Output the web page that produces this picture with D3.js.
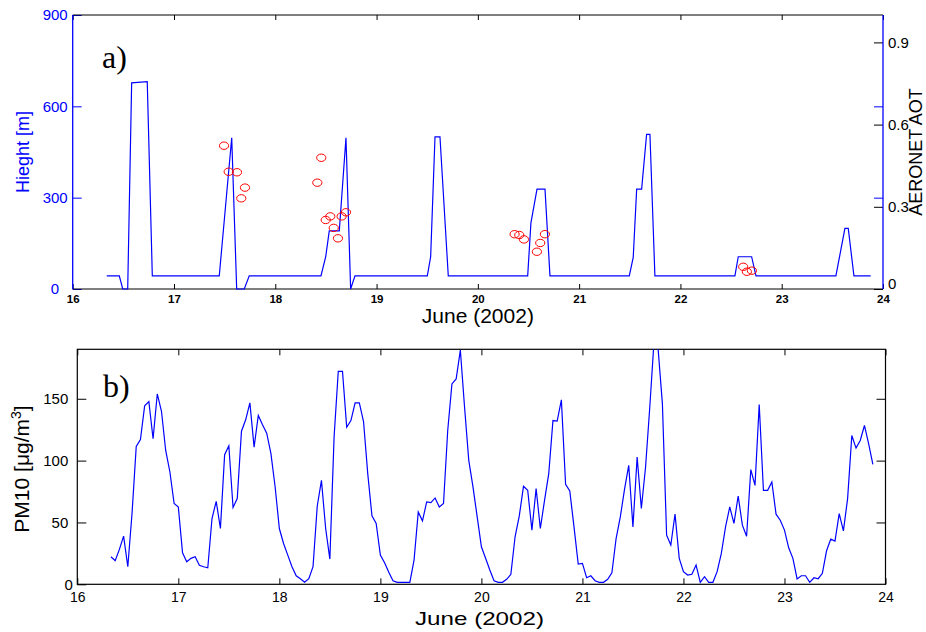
<!DOCTYPE html>
<html>
<head>
<meta charset="utf-8">
<script src="https://cdn.jsdelivr.net/npm/d3@7"></script>
<style>
  html, body { margin: 0; padding: 0; background: #fff; }
  svg { display: block; }
  text { font-family: "Liberation Sans", Arial, sans-serif; }
  text.serif { font-family: "Liberation Serif", "Times New Roman", serif; }
</style>
</head>
<body>
<svg id="chart" width="926" height="632"></svg>
<script>
// ---------------- DATA ----------------
// Panel a) boundary-layer height [m] (day of June 2002, value)
const heightDays = [16.336, 16.460, 16.494, 16.543, 16.582, 16.736, 16.786, 17.447, 17.570, 17.619,
  17.694, 17.743, 18.451, 18.498, 18.533, 18.632, 18.698, 18.744, 18.787, 19.501,
  19.534, 19.577, 19.626, 19.708, 20.492, 20.524, 20.584, 20.663, 20.712, 21.495,
  21.534, 21.568, 21.617, 21.666, 21.699, 21.748, 22.538, 22.571, 22.703, 22.746,
  23.535, 23.624, 23.657, 23.713, 23.878];
const heightValues = [43, 43, 0, 0, 677, 681, 43, 43, 497, 0,
  0, 43, 43, 106, 191, 191, 497, 0, 43, 43,
  106, 500, 500, 43, 43, 217, 328, 328, 43, 43,
  104, 328, 328, 508, 508, 43, 43, 106, 106, 43,
  43, 199, 199, 43, 43];

// Panel a) AERONET AOT
const aotDays = [17.494, 17.540, 17.622, 17.701, 17.664, 18.415, 18.454, 18.498, 18.543, 18.577,
  18.619, 18.655, 18.698, 20.363, 20.409, 20.455, 20.583, 20.616, 20.662, 22.620,
  22.656, 22.706];
const aotValues = [0.523, 0.428, 0.426, 0.370, 0.331, 0.388, 0.479, 0.252, 0.265, 0.223,
  0.185, 0.265, 0.280, 0.200, 0.197, 0.181, 0.136, 0.168, 0.200, 0.081,
  0.063, 0.067];

// Panel b) PM10 [ug/m3], hourly samples starting 16 June 08:00
const pm10StartDay = 16 + 8 / 24;
const pm10StepDay = 1 / 24;
const pm10Values = [
  22.3, 19.0, 28.2, 38.9, 14.2, 57.2, 111.5, 117.1, 144.3, 147.7,
  117.7, 153.9, 139.9, 108.2, 90.8, 65.3, 62.5, 25.5, 18.2, 21.0,
  22.3, 15.3, 14.2, 13.4, 53.2, 67.1, 45.1, 104.8, 112.0, 62.1,
  69.3, 123.8, 133.0, 146.7, 110.9, 136.5, 129.0, 122.2, 105.6, 78.7,
  45.1, 33.0, 23.6, 14.2, 6.9, 4.5, 1.6, 4.5, 14.2, 63.1,
  84.1, 45.1, 20.4, 119.0, 172.2, 172.2, 127.0, 132.4, 146.7, 146.7,
  131.6, 89.5, 55.3, 49.2, 23.6, 17.4, 9.7, 2.9, 1.6, 1.6,
  1.6, 1.6, 19.6, 58.5, 51.3, 66.6, 66.1, 69.8, 62.5, 65.3,
  124.4, 162.0, 166.0, 189.4, 143.2, 100.2, 78.7, 54.5, 30.3, 21.0,
  11.5, 2.9, 1.6, 1.6, 4.0, 8.1, 38.4, 55.3, 79.2, 76.0,
  43.8, 77.4, 45.1, 67.9, 89.5, 132.4, 131.9, 149.1, 80.8, 75.4,
  46.4, 16.4, 16.9, 5.3, 6.9, 2.9, 1.6, 1.6, 4.0, 9.3,
  37.0, 54.5, 76.7, 96.2, 46.4, 102.8, 61.3, 94.8, 143.2, 196.0,
  189.4, 145.9, 39.7, 31.7, 56.7, 21.0, 10.2, 7.5, 8.1, 15.6,
  1.6, 6.1, 1.6, 1.6, 10.2, 25.0, 46.4, 62.5, 49.2, 71.4,
  47.8, 38.9, 92.7, 80.0, 145.3, 76.0, 76.0, 82.7, 56.7, 51.8,
  43.8, 29.5, 21.0, 4.3, 6.9, 6.9, 1.6, 5.3, 4.5, 8.9,
  27.1, 36.5, 34.9, 57.2, 43.2, 69.3, 120.3, 110.1, 116.3, 128.4,
  113.6, 97.0];

// Axis ticks
const dayTicks = [16, 17, 18, 19, 20, 21, 22, 23, 24];
const heightTicks = [0, 300, 600, 900];
const aotTicks = [0, 0.3, 0.6, 0.9];
const pm10Ticks = [0, 50, 100, 150];

// ---------------- DRAW ----------------
const svg = d3.select("#chart");
const BLUE = "#0000ff";
const defs = svg.append("defs");

// ---- Panel a ----
const A = { l: 72.7, r: 883, t: 15, b: 289 };
const xA = d3.scaleLinear().domain([16, 24]).range([A.l, A.r]);
const yH = d3.scaleLinear().domain([0, 900]).range([A.b, A.t]);
const yAot = d3.scaleLinear().domain([0, 1]).range([A.b, A.t]);

const gA = svg.append("g");
defs.append("clipPath").attr("id", "clipA")
  .append("rect").attr("x", A.l).attr("y", A.t - 1).attr("width", A.r - A.l).attr("height", A.b - A.t + 2);

// bottom x axis
const axA_b = gA.append("g").attr("transform", `translate(0,${A.b})`)
  .call(d3.axisBottom(xA).tickValues(dayTicks).tickFormat(d3.format("d")).tickSize(-5).tickPadding(6));
axA_b.selectAll("text").attr("font-size", 11.5).attr("font-weight", "bold").attr("fill", "#000");
// top x ticks
const axA_t = gA.append("g").attr("transform", `translate(0,${A.t})`)
  .call(d3.axisTop(xA).tickValues(dayTicks).tickFormat("").tickSize(-5));
// left height axis
const axA_l = gA.append("g").attr("transform", `translate(${A.l},0)`)
  .call(d3.axisLeft(yH).tickValues(heightTicks).tickFormat(d3.format("d")).tickSize(-9).tickPadding(5));
axA_l.selectAll("text").attr("font-size", 15).attr("fill", BLUE);
axA_l.selectAll("line").attr("stroke", BLUE);
axA_l.selectAll(".tick").filter(d => d === 0).select("text").attr("dx", -8.5);
// right blue ticks of height axis
const axA_rh = gA.append("g").attr("transform", `translate(${A.r},0)`)
  .call(d3.axisRight(yH).tickValues([300, 600]).tickFormat("").tickSize(-9));
axA_rh.selectAll("line").attr("stroke", BLUE);
// right AOT axis
const axA_r = gA.append("g").attr("transform", `translate(${A.r},0)`)
  .call(d3.axisRight(yAot).tickValues(aotTicks).tickFormat(d => d === 0 ? "0" : d3.format(".1f")(d)).tickSize(-9).tickPadding(5));
axA_r.selectAll("text").attr("font-size", 15).attr("fill", "#000");
axA_r.selectAll(".tick").filter(d => d === 0).select("text").attr("dy", "-0.05em");

[axA_b, axA_t, axA_l, axA_rh, axA_r].forEach(g => g.select(".domain").remove());
gA.selectAll(".tick line").filter(function () { return !this.getAttribute("stroke") || this.getAttribute("stroke") === "currentColor"; }).attr("stroke", "#000");

// frame
gA.append("line").attr("x1", A.l).attr("x2", A.r).attr("y1", A.t).attr("y2", A.t).attr("stroke", "#000");
gA.append("line").attr("x1", A.l).attr("x2", A.r).attr("y1", A.b).attr("y2", A.b).attr("stroke", "#000");
gA.append("line").attr("x1", A.l).attr("x2", A.l).attr("y1", A.t).attr("y2", A.b).attr("stroke", BLUE).attr("stroke-width", 1.3);
gA.append("line").attr("x1", A.r).attr("x2", A.r).attr("y1", A.t).attr("y2", A.b).attr("stroke", BLUE).attr("stroke-width", 1.3);

// height line
const heightData = heightDays.map((d, i) => [d, heightValues[i]]);
gA.append("path").datum(heightData)
  .attr("clip-path", "url(#clipA)")
  .attr("fill", "none").attr("stroke", BLUE).attr("stroke-width", 1.2)
  .attr("d", d3.line().x(d => xA(d[0])).y(d => yH(d[1])));

// AOT circles
gA.selectAll("ellipse.aot").data(aotDays.map((d, i) => [d, aotValues[i]])).enter()
  .append("ellipse").attr("class", "aot")
  .attr("cx", d => xA(d[0])).attr("cy", d => yAot(d[1]))
  .attr("rx", 4.6).attr("ry", 3.7)
  .attr("fill", "none").attr("stroke", "#ff0000").attr("stroke-width", 1);

// labels
gA.append("text").attr("class", "serif").attr("x", 102).attr("y", 68)
  .attr("font-size", 32).text("a)");
gA.append("text").attr("transform", "translate(28.5,152) rotate(-90)")
  .attr("text-anchor", "middle").attr("font-size", 18).attr("fill", BLUE).text("Hieght [m]");
gA.append("text").attr("transform", "translate(922,152) rotate(-90)")
  .attr("text-anchor", "middle").attr("font-size", 18).attr("fill", "#000").text("AERONET AOT");
gA.append("text").attr("x", (A.l + A.r) / 2).attr("y", 323)
  .attr("text-anchor", "middle").attr("font-size", 21).text("June (2002)");

// ---- Panel b ----
const B = { l: 77.3, r: 885.5, t: 349.3, b: 584.3 };
const xB = d3.scaleLinear().domain([16, 24]).range([B.l, B.r]);
const yB = d3.scaleLinear().domain([0, 190]).range([B.b, B.t]);
defs.append("clipPath").attr("id", "clipB")
  .append("rect").attr("x", B.l).attr("y", B.t).attr("width", B.r - B.l).attr("height", B.b - B.t);

const gB = svg.append("g");
const axB_b = gB.append("g").attr("transform", `translate(0,${B.b})`)
  .call(d3.axisBottom(xB).tickValues(dayTicks).tickFormat(d3.format("d")).tickSize(-6).tickPadding(7.8));
axB_b.selectAll("text").attr("font-size", 14).attr("fill", "#000");
const axB_t = gB.append("g").attr("transform", `translate(0,${B.t})`)
  .call(d3.axisTop(xB).tickValues(dayTicks).tickFormat("").tickSize(-6));
const axB_l = gB.append("g").attr("transform", `translate(${B.l},0)`)
  .call(d3.axisLeft(yB).tickValues(pm10Ticks).tickFormat(d3.format("d")).tickSize(-9).tickPadding(9));
axB_l.selectAll("text").attr("font-size", 15).attr("fill", "#000");
axB_l.selectAll(".tick").filter(d => d === 0).select("text").attr("dx", 4.5);
const axB_r = gB.append("g").attr("transform", `translate(${B.r},0)`)
  .call(d3.axisRight(yB).tickValues(pm10Ticks.slice(1)).tickFormat("").tickSize(-9));
[axB_b, axB_t, axB_l, axB_r].forEach(g => g.select(".domain").remove());
gB.selectAll(".tick line").attr("stroke", "#000");

gB.append("rect").attr("x", B.l).attr("y", B.t).attr("width", B.r - B.l).attr("height", B.b - B.t)
  .attr("fill", "none").attr("stroke", "#000").attr("stroke-width", 1.2);

gB.append("path").datum(pm10Values)
  .attr("clip-path", "url(#clipB)")
  .attr("fill", "none").attr("stroke", BLUE).attr("stroke-width", 1.2)
  .attr("d", d3.line().x((d, i) => xB(pm10StartDay + i * pm10StepDay)).y(d => yB(d)));

gB.append("text").attr("class", "serif").attr("x", 103).attr("y", 397)
  .attr("font-size", 32).text("b)");
const pmLab = gB.append("text").attr("transform", "translate(29,469) rotate(-90)")
  .attr("text-anchor", "middle").attr("font-size", 21).attr("fill", "#000");
pmLab.append("tspan").text("PM10 [μg/m");
pmLab.append("tspan").attr("font-size", 14).attr("dy", "-0.6em").text("3");
pmLab.append("tspan").attr("dy", "0.4em").text("]");
gB.append("text").attr("x", 479.5).attr("y", 625)
  .attr("text-anchor", "middle").attr("font-size", 19)
  .attr("textLength", 129).attr("lengthAdjust", "spacingAndGlyphs").text("June (2002)");
</script>
</body>
</html>
